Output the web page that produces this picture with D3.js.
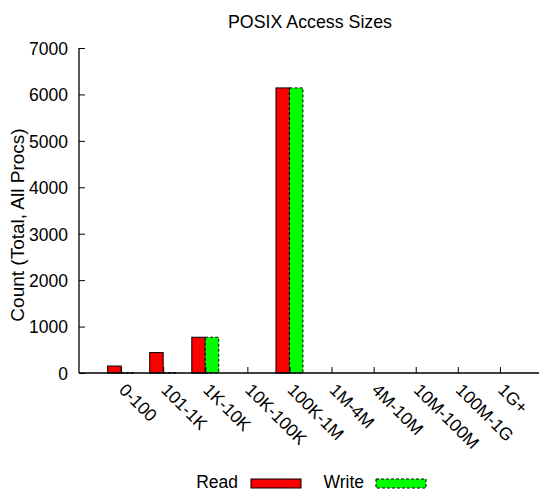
<!DOCTYPE html>
<html><head><meta charset="utf-8">
<script src="https://cdn.jsdelivr.net/npm/d3@7"></script>
<style>body{margin:0;background:#fff}svg{display:block}text{font-family:"Liberation Sans",Arial,sans-serif;fill:#000}</style>
</head><body><svg id="c" width="539" height="492"></svg>
<script>
const categories = ["0-100","101-1K","1K-10K","10K-100K","100K-1M","1M-4M","4M-10M","10M-100M","100M-1G","1G+"];
const readValues = [150, 440, 770, 0, 6140, 0, 0, 0, 0, 0];
const writeValues = [4, 6, 770, 0, 6140, 0, 0, 0, 0, 0];
const yTicks = [0,1000,2000,3000,4000,5000,6000,7000];
const seriesNames = ["Read","Write"];

const svg = d3.select("#c");
const fs = 17.5;
const x = d3.scaleLinear().domain([-1, 10]).range([79, 542]);
const y = d3.scaleLinear().domain([0, 7000]).range([373, 48]);
const step = x(1) - x(0);
const bw = step * 0.32;

// y axis
const yAxis = svg.append("g").attr("transform","translate(79,0)")
  .call(d3.axisLeft(y).tickValues(yTicks).tickSize(-6).tickPadding(11).tickFormat(d3.format("d")));
yAxis.select(".domain").attr("d","M0,48V373").attr("stroke","#000").attr("stroke-width",1.3);
yAxis.selectAll("line").attr("stroke","#000");
yAxis.selectAll("text").style("font-size",fs+"px").attr("dy","0.36em");

// bars
const g = svg.append("g");
g.selectAll("rect.read").data(readValues).join("rect")
  .attr("x",(d,i)=>x(i)-bw).attr("width",bw)
  .attr("y",d=>y(d)).attr("height",d=>y(0)-y(d))
  .attr("fill","#ff0000").attr("stroke","#000").attr("stroke-width",1)
  .style("display",d=>d>0?null:"none");
g.selectAll("rect.write").data(writeValues).join("rect")
  .attr("x",(d,i)=>x(i)).attr("width",bw)
  .attr("y",d=>y(d)).attr("height",d=>y(0)-y(d))
  .attr("fill","#00ff00").attr("stroke","#000").attr("stroke-width",1).attr("stroke-dasharray","3,2")
  .style("display",d=>d>0?null:"none");

// x axis
const xAxis = svg.append("g").attr("transform","translate(0,373)")
  .call(d3.axisBottom(x).tickValues(d3.range(categories.length)).tickSize(-6).tickFormat(""));
xAxis.select(".domain").attr("d","M79,0H542").attr("stroke","#000").attr("stroke-width",1.3);
xAxis.selectAll("line").attr("stroke","#000");
svg.append("g").selectAll("text").data(categories).join("text")
  .attr("transform",(d,i)=>`translate(${x(i)-3},${391}) rotate(45)`)
  .style("font-size",fs+"px").text(d=>d);

// title
svg.append("text").attr("x",310).attr("y",28).attr("text-anchor","middle").style("font-size","17.8px").text("POSIX Access Sizes");
// y label
svg.append("text").attr("transform","translate(24,225) rotate(-90)").attr("text-anchor","middle").style("font-size","19px").text("Count (Total, All Procs)");

// legend
const leg = svg.append("g");
leg.append("text").attr("x",238).attr("y",488).attr("text-anchor","end").style("font-size",fs+"px").text(seriesNames[0]);
leg.append("rect").attr("x",251).attr("y",479).attr("width",50).attr("height",9).attr("fill","#ff0000").attr("stroke","#000");
leg.append("text").attr("x",364).attr("y",488).attr("text-anchor","end").style("font-size",fs+"px").text(seriesNames[1]);
leg.append("rect").attr("x",376).attr("y",479).attr("width",50).attr("height",9).attr("fill","#00ff00").attr("stroke","#000").attr("stroke-dasharray","3,2");
</script></body></html>
